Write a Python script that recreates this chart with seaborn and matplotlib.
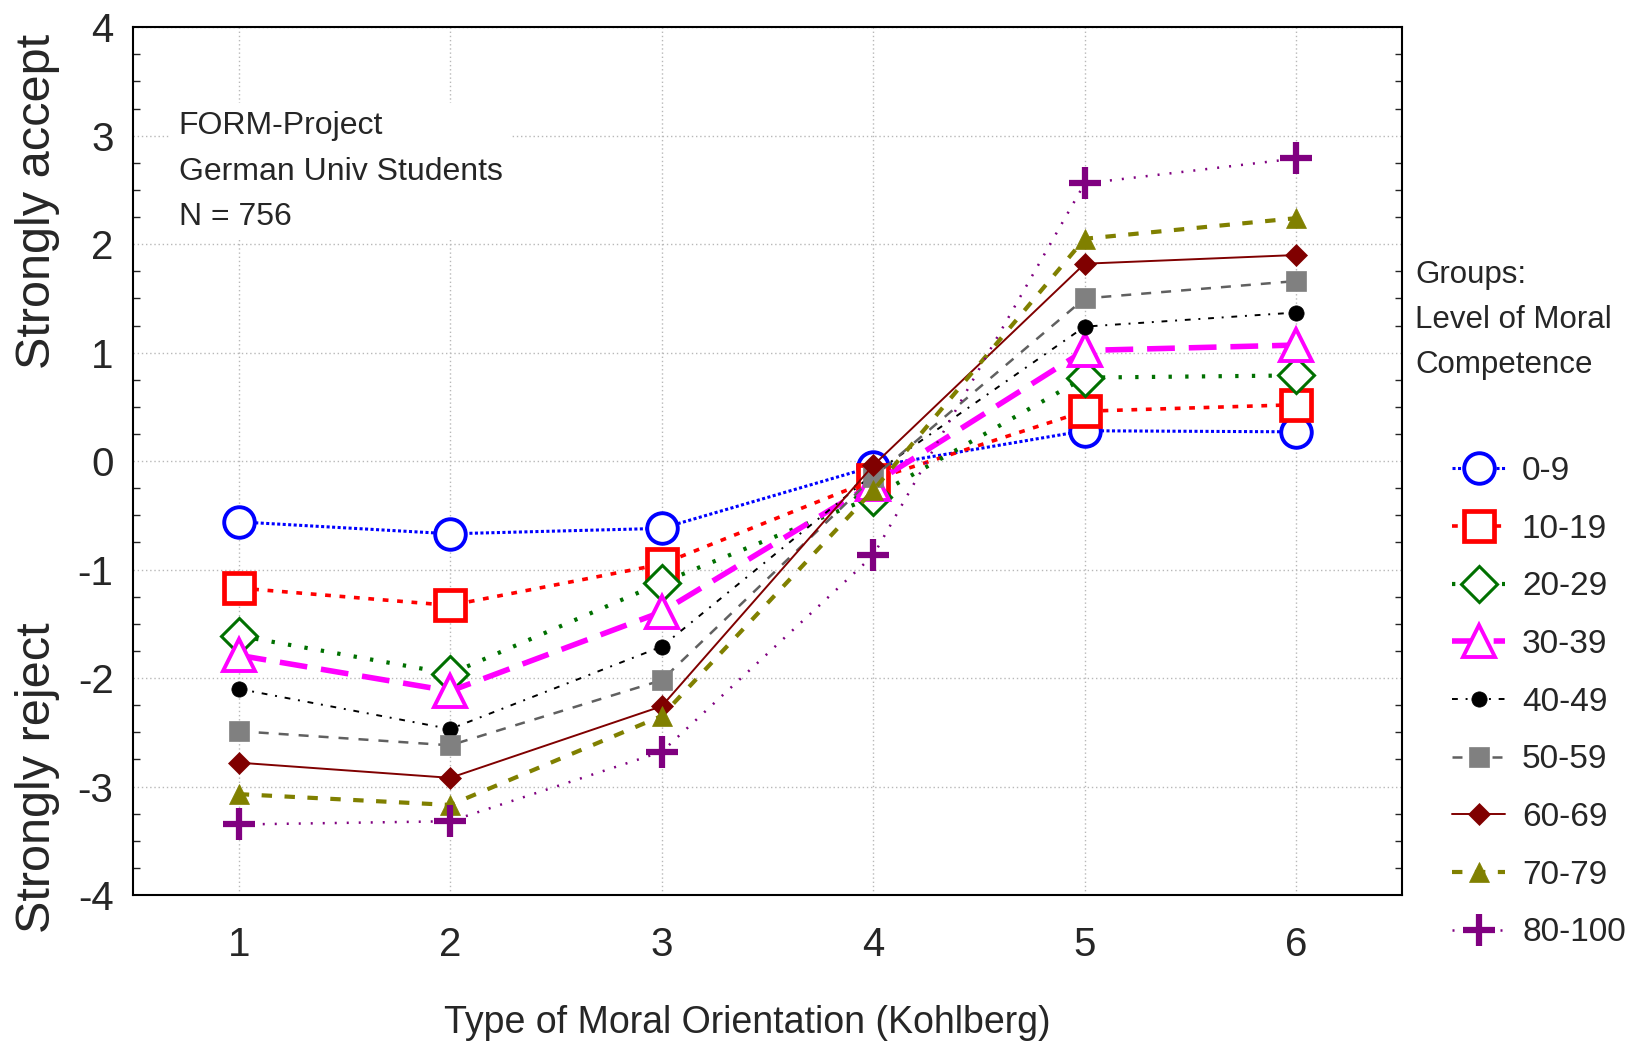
import matplotlib
matplotlib.use("Agg")
import matplotlib.pyplot as plt
from matplotlib.ticker import MultipleLocator
import seaborn as sns
import pandas as pd

# Mean acceptance per Kohlberg stage, by level of moral competence (C-score)
stages = [1, 2, 3, 4, 5, 6]
groups = ["0-9", "10-19", "20-29", "30-39", "40-49", "50-59", "60-69", "70-79", "80-100"]
g_0_9 = [-0.56, -0.67, -0.62, -0.05, 0.28, 0.27]
g_10_19 = [-1.17, -1.33, -0.95, -0.17, 0.46, 0.52]
g_20_29 = [-1.61, -1.96, -1.12, -0.33, 0.77, 0.79]
g_30_39 = [-1.79, -2.12, -1.39, -0.21, 1.02, 1.07]
g_40_49 = [-2.10, -2.47, -1.71, -0.12, 1.24, 1.37]
g_50_59 = [-2.49, -2.62, -2.02, -0.15, 1.50, 1.66]
g_60_69 = [-2.78, -2.92, -2.26, -0.04, 1.82, 1.90]
g_70_79 = [-3.07, -3.17, -2.35, -0.27, 2.05, 2.24]
g_80_100 = [-3.35, -3.32, -2.68, -0.87, 2.56, 2.79]
values = [g_0_9, g_10_19, g_20_29, g_30_39, g_40_49, g_50_59, g_60_69, g_70_79, g_80_100]

# line / marker styles per group
styles = [
    dict(color="#0000ff", ls=(0, (1, 0.8)), lw=2.2, marker="o", ms=22, mfc="white", mec="#0000ff", mew=2.8),
    dict(color="#ff0000", ls=(0, (1.6, 2.4)), lw=2.6, marker="s", ms=22, mfc="white", mec="#ff0000", mew=3.4),
    dict(color="#007000", ls=(0, (0.8, 3.2)), lw=3.0, marker="D", ms=18, mfc="white", mec="#007000", mew=2.2),
    dict(color="#ff00ff", ls=(0, (5, 2.5)), lw=4.0, marker="^", ms=23, mfc="white", mec="#ff00ff", mew=2.8),
    dict(color="#000000", ls=(0, (3, 4, 1, 4)), lw=1.4, marker="o", ms=11, mfc="black", mec="black", mew=0.5),
    dict(color="#606060", ls=(0, (4, 4)), lw=1.8, marker="s", ms=14, mfc="#808080", mec="#808080", mew=0.5),
    dict(color="#800000", ls="-", lw=1.4, marker="D", ms=11, mfc="#800000", mec="#800000", mew=0.5),
    dict(color="#808000", ls=(0, (2.5, 3)), lw=3.0, marker="^", ms=14, mfc="#808000", mec="#808000", mew=0.5),
    dict(color="#800080", ls=(0, (0.8, 4)), lw=1.8, marker="+", ms=23, mec="#800080", mew=4.5),
]

sns.set_style("white")
plt.rcParams["font.family"] = ["Liberation Sans", "DejaVu Sans"]
plt.rcParams["axes.unicode_minus"] = False

fig = plt.figure(figsize=(16.32, 10.48), dpi=100)
ax = fig.add_axes([0.0815, 0.146, 0.7775, 0.828])

for name, vals, st in zip(groups, values, styles):
    df = pd.DataFrame({"stage": stages, "score": vals})
    st = dict(st)
    ls = st.pop("ls")
    lw = st.pop("lw")
    sns.lineplot(data=df, x="stage", y="score", ax=ax, label=name,
                 linestyle=ls, linewidth=lw, **st)

ax.set_xlim(0.5, 6.5)
ax.set_ylim(-4, 4)
ax.set_xticks(stages)
ax.set_yticks(range(-4, 5))
ax.yaxis.set_minor_locator(MultipleLocator(0.25))
ax.tick_params(axis="x", which="major", length=0, pad=22, labelsize=29)
ax.tick_params(axis="y", which="major", length=0, pad=14, labelsize=29)
ax.tick_params(axis="y", which="minor", left=True, right=True, direction="in", length=5, width=1)
ax.grid(True, which="major", color="#b8b8b8", linestyle=(0, (1, 2)), linewidth=1)
for sp in ax.spines.values():
    sp.set_color("black")
    sp.set_linewidth(1.5)
ax.set_xlabel("")
ax.set_ylabel("")

ax.text(0.036, 0.903, "FORM-Project\nGerman Univ Students\nN = 756", transform=ax.transAxes,
        fontsize=23, va="top", ha="left", linespacing=1.66,
        bbox=dict(facecolor="white", edgecolor="none", pad=6))

fig.text(0.023, 1 - 201 / 1048, "Strongly accept", rotation=90, fontsize=35, ha="center", va="center")
fig.text(0.023, 1 - 778 / 1048, "Strongly reject", rotation=90, fontsize=35, ha="center", va="center")
fig.text(747 / 1632, 1 - 1023 / 1048, "Type of Moral Orientation (Kohlberg)", fontsize=27, ha="center", va="center")
fig.text(1415 / 1632, 1 - 260 / 1048, "Groups:\nLevel of Moral\nCompetence", fontsize=22.5, ha="left", va="top",
         linespacing=1.66)

handles, labels = ax.get_legend_handles_labels()
ax.get_legend().remove()
fig.legend(handles, labels, loc="upper left", bbox_to_anchor=(1452 / 1632, 1 - 456 / 1048),
           frameon=False, fontsize=24, handlelength=1.6, handletextpad=0.5,
           labelspacing=0.8, borderpad=0, borderaxespad=0, markerscale=1.0)

fig.savefig("out.png", dpi=100)
